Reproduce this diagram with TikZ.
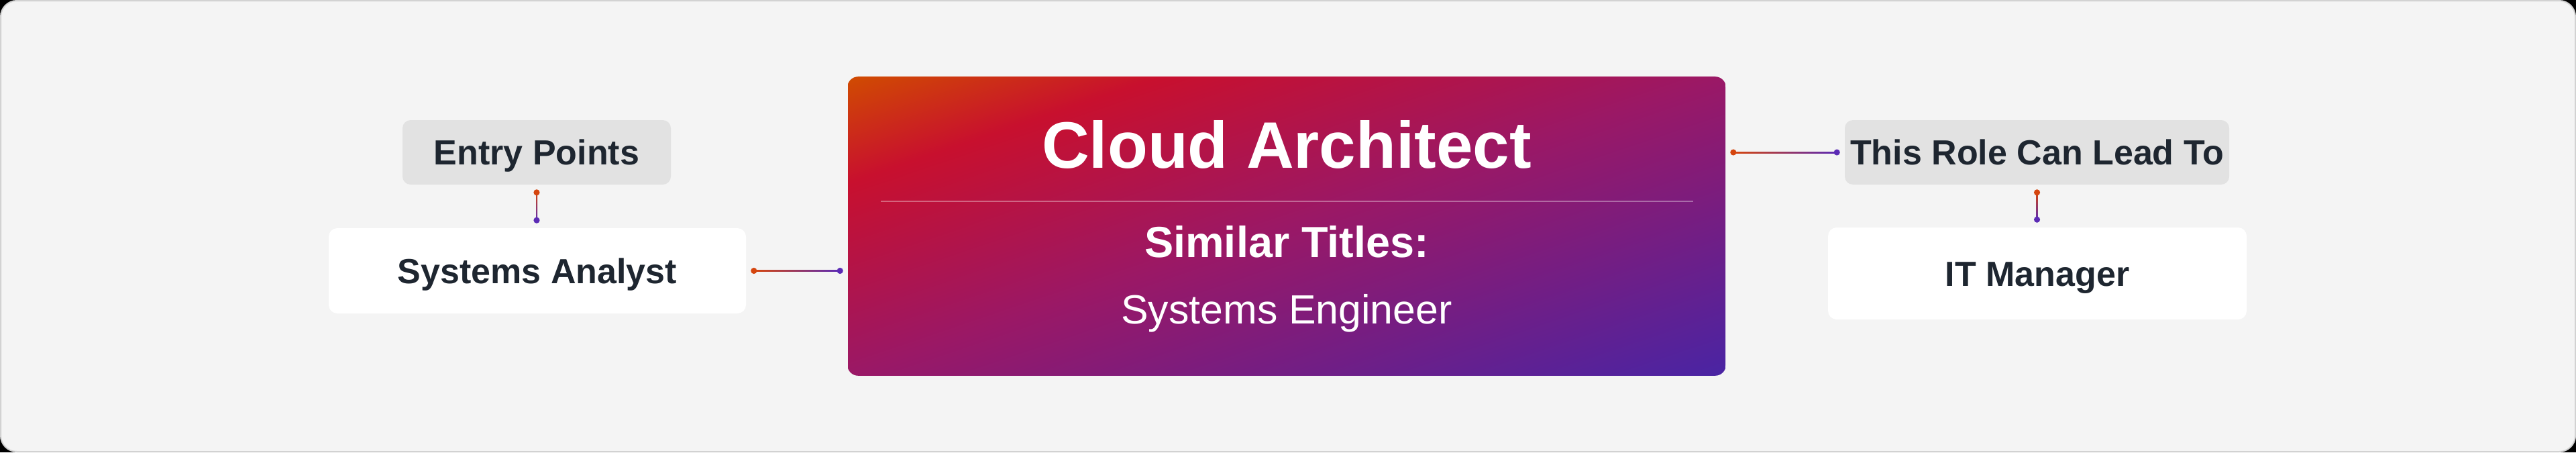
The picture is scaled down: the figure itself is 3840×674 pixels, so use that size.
\documentclass[tikz,border=0pt]{standalone}
\usepackage{fontspec}
\setmainfont{Liberation Sans}
\usetikzlibrary{calc}
\definecolor{bgc}{HTML}{F4F4F4}
\definecolor{bdc}{HTML}{D2D2D2}
\definecolor{pillc}{HTML}{E2E2E2}
\definecolor{txt}{HTML}{1E2630}
\definecolor{gO}{HTML}{D04A02}
\definecolor{gR}{HTML}{C8102E}
\definecolor{gM}{HTML}{9A1866}
\definecolor{gI}{HTML}{4A24A3}
\definecolor{cR}{HTML}{D5450E}
\definecolor{cP}{HTML}{5B2BB5}
\pgfdeclarehorizontalshading{cardgrad}{100bp}{color(0bp)=(gO); color(14.64bp)=(gO); color(27bp)=(gR); color(50bp)=(gM); color(85.36bp)=(gI); color(100bp)=(gI)}
\tikzset{
  labelbox/.style={inner sep=0pt, text=txt, align=center,
    font=\fontsize{13pt}{16pt}\selectfont\bfseries, text height=9.3pt, text depth=0pt},
  pill/.style={labelbox, fill=pillc, rounded corners=3pt},
  rolebox/.style={labelbox, fill=white, rounded corners=3.2pt},
  cardbox/.style={inner sep=0pt},
  cardtitle/.style={inner sep=0pt, text=white, font=\fontsize{24.5pt}{28pt}\selectfont\bfseries, text height=17.5pt, text depth=0pt},
  cardsub/.style={inner sep=0pt, text=white, font=\fontsize{16.2pt}{19pt}\selectfont\bfseries, text height=11.6pt, text depth=0pt},
  carditem/.style={inner sep=0pt, text=white, font=\fontsize{15.2pt}{18pt}\selectfont, text height=10.8pt, text depth=0pt},
  dotR/.style={fill=cR},
  dotP/.style={fill=cP},
}
\begin{document}
\begin{tikzpicture}[x=0.25pt,y=-0.25pt]
\useasboundingbox (0,0) rectangle (3840,674);
\fill[black] (0,0) rectangle (3840,674);
\draw[fill=bgc, draw=bdc, line width=0.5pt, rounded corners=6pt] (1,1) rectangle (3839,673);

% nodes
\node[pill, minimum width=100pt, minimum height=24pt] (entry) at (800,227) {Entry Points};
\node[rolebox, minimum width=155.5pt, minimum height=31.75pt] (sa) at (801,403.5) {Systems Analyst};
\node[cardbox, minimum width=327pt, minimum height=111pt] (card) at (1918,337) {};
% card gradient (diagonal, corner to corner)
\begin{scope}
  \clip[rounded corners=4pt] (card.north west) rectangle (card.south east);
  \begin{scope}[transform canvas={shift={(card.center)}, xscale=3.2578, yscale=1.1059}]
    \shade[shading=cardgrad, shading angle=-45] (-50bp,-50bp) rectangle (50bp,50bp);
  \end{scope}
\end{scope}
\node[cardtitle] (title) at (1918,215) {Cloud Architect};
\node[cardsub] (simtitle) at (1918,360) {Similar Titles:};
\node[carditem] (simitem) at (1918,461) {Systems Engineer};
\node[pill, minimum width=143.25pt, minimum height=24pt] (role) at (3036.5,227) {This Role Can Lead To};
\node[rolebox, minimum width=156pt, minimum height=34.25pt] (itm) at (3037,407.5) {IT Manager};

% divider
\coordinate (dl) at ($(card.north west)+(50,186)$);
\coordinate (dr) at ($(card.north east)+(-49,186)$);
\draw[white, opacity=0.35, line width=0.5pt] (dl) -- (dr);

% connector coordinates
\coordinate (a1) at ($(entry.south)+(0,11)$);
\coordinate (a2) at ($(entry.south |- sa.north)+(0,-11)$);
\coordinate (b1) at ($(sa.east)+(11,0)$);
\coordinate (b2) at ($(card.west |- sa.east)+(-11,0)$);
\coordinate (c1) at ($(card.east |- role.west)+(11,0)$);
\coordinate (c2) at ($(role.west)+(-11,0)$);
\coordinate (d1) at ($(role.south)+(0,11)$);
\coordinate (d2) at ($(role.south |- itm.north)+(0,-11)$);

% connectors (gradient lines)
\shade[top color=cR, bottom color=cP] ($(a1)+(-1,0)$) rectangle ($(a2)+(1,0)$);
\shade[left color=cR, right color=cP] ($(b1)+(0,-1)$) rectangle ($(b2)+(0,1)$);
\shade[left color=cR, right color=cP] ($(c1)+(0,-1)$) rectangle ($(c2)+(0,1)$);
\shade[top color=cR, bottom color=cP] ($(d1)+(-1,0)$) rectangle ($(d2)+(1,0)$);

% end dots
\fill[dotR] (a1) circle (1.15pt);
\fill[dotP] (a2) circle (1.15pt);
\fill[dotR] (b1) circle (1.15pt);
\fill[dotP] (b2) circle (1.15pt);
\fill[dotR] (c1) circle (1.15pt);
\fill[dotP] (c2) circle (1.15pt);
\fill[dotR] (d1) circle (1.15pt);
\fill[dotP] (d2) circle (1.15pt);
\end{tikzpicture}
\end{document}
